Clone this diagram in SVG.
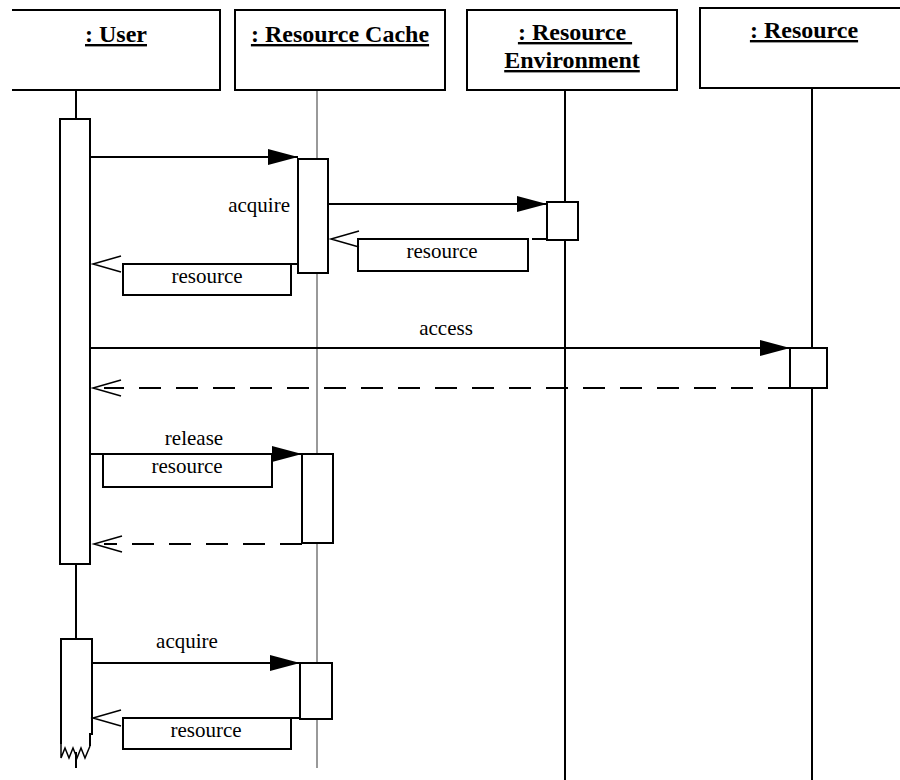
<svg xmlns="http://www.w3.org/2000/svg" width="900" height="780" viewBox="0 0 900 780">
<style>
.box{fill:#fff;stroke:#000;stroke-width:2}
.act{fill:#fff;stroke:#000;stroke-width:2}
.life{stroke:#000;stroke-width:2;fill:none}
.thin{stroke:#555;stroke-width:1.2;fill:none}
.msg{stroke:#000;stroke-width:2;fill:none}
.dash{stroke:#000;stroke-width:2;fill:none;stroke-dasharray:22 15}
.lbl{fill:#fff;stroke:#000;stroke-width:2}
.head{font-family:"Liberation Serif","Times New Roman",serif;font-weight:bold;font-size:24px;text-anchor:middle;text-decoration:underline;white-space:pre}
.t{font-family:"Liberation Serif","Times New Roman",serif;font-size:21px;text-anchor:middle}
.filled{fill:#000;stroke:none}
.open{fill:none;stroke:#000;stroke-width:1.5}
</style>
<defs>
<path id="fh" class="filled" d="M0,0 L-30,-8 L-30,8 Z"/>
<path id="oh" class="open" d="M28,-8 L0,0 L28,8"/>
</defs>

<g id="lifelines">
<line class="life" x1="76" y1="90" x2="76" y2="119"/>
<line class="life" x1="76" y1="564" x2="76" y2="639"/>
<line class="life" x1="76" y1="752" x2="76" y2="768"/>
<line class="thin" x1="317" y1="90" x2="317" y2="768"/>
<line class="life" x1="565" y1="90" x2="565" y2="780"/>
<line class="life" x1="812" y1="88" x2="812" y2="780"/>
</g>

<g id="user">
<path class="box" d="M12,10 H220 V90 H12" fill="#fff"/>
<text class="head" x="116" y="42">: User</text>
</g>
<g id="cache">
<rect class="box" x="235" y="10" width="210" height="80"/>
<text class="head" x="340" y="42">: Resource Cache</text>
</g>
<g id="environment">
<rect class="box" x="467" y="10" width="210" height="80"/>
<text class="head" x="575" y="40">: Resource </text>
<text class="head" x="572" y="68">Environment</text>
</g>
<g id="resource">
<rect class="box" x="700" y="8" width="220" height="80"/>
<text class="head" x="804" y="38">: Resource</text>
</g>

<g id="activations">
<rect class="act" x="60" y="119" width="30" height="445"/>
<rect class="act" x="298" y="159" width="30" height="114"/>
<rect class="act" x="547" y="202" width="31" height="38"/>
<rect class="act" x="790" y="348" width="37" height="40"/>
<rect class="act" x="302" y="454" width="31" height="89"/>
<path class="act" d="M61,744 V639 H92 V734 H90 V746"/>
<polyline class="open" points="61,742 61,758 65,748 69,758 73,748 77,758 81,748 85,758 90,746"/>
<rect class="act" x="300" y="663" width="32" height="56"/>
</g>

<g id="connectors">
<line class="msg" x1="90" y1="157" x2="298" y2="157"/>
<use href="#fh" x="298" y="157"/>
<text class="t" x="290" y="212" style="text-anchor:end">acquire</text>

<line class="msg" x1="328" y1="204" x2="547" y2="204"/>
<use href="#fh" x="547" y="204"/>

<line class="msg" x1="532" y1="239" x2="547" y2="239"/>
<rect class="lbl" x="358" y="239" width="170" height="32"/>
<use href="#oh" x="331" y="239"/>
<text class="t" x="442" y="258">resource</text>

<line class="msg" x1="123" y1="264" x2="298" y2="264"/>
<rect class="lbl" x="123" y="264" width="168" height="31"/>
<use href="#oh" x="93" y="264"/>
<text class="t" x="207" y="283">resource</text>

<line class="msg" x1="90" y1="348" x2="790" y2="348"/>
<use href="#fh" x="790" y="348"/>
<text class="t" x="446" y="335">access</text>

<line class="dash" x1="790" y1="388" x2="104" y2="388"/>
<use href="#oh" x="93" y="388"/>

<line class="msg" x1="90" y1="454" x2="302" y2="454"/>
<use href="#fh" x="302" y="454"/>
<text class="t" x="194" y="445">release</text>
<rect class="lbl" x="103" y="454" width="169" height="33"/>
<text class="t" x="187" y="473">resource</text>

<line class="dash" x1="302" y1="544" x2="104" y2="544"/>
<use href="#oh" x="94" y="544"/>

<line class="msg" x1="92" y1="663" x2="300" y2="663"/>
<use href="#fh" x="300" y="663"/>
<text class="t" x="187" y="648">acquire</text>

<line class="msg" x1="123" y1="718" x2="300" y2="718"/>
<rect class="lbl" x="123" y="718" width="168" height="31"/>
<use href="#oh" x="93" y="718"/>
<text class="t" x="206" y="737">resource</text>
</g>
</svg>
